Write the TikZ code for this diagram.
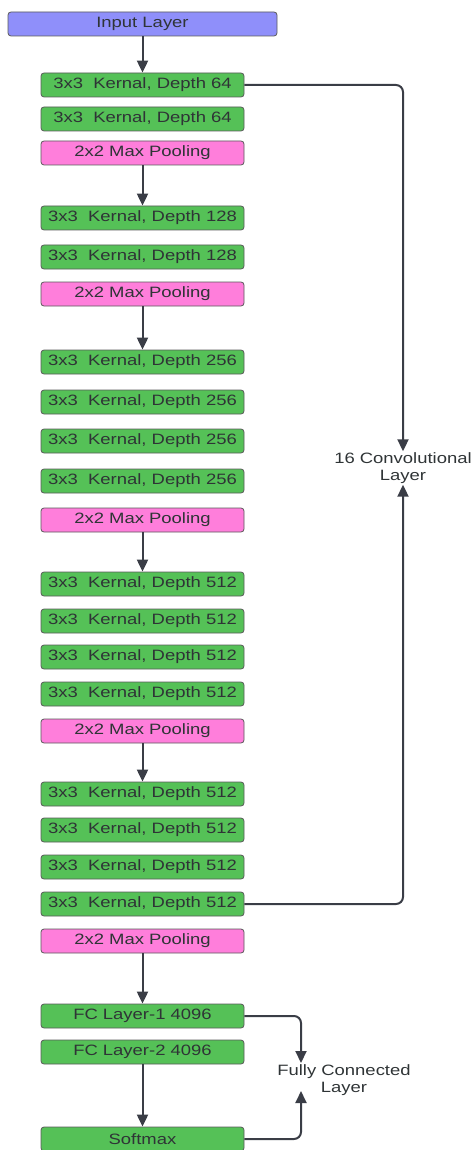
\documentclass[tikz,border=0pt]{standalone}
\usepackage{fontspec}
\setmainfont{Liberation Sans}[FakeStretch=1.23]
\usetikzlibrary{arrows.meta}
\definecolor{inputc}{HTML}{8F8FFA}
\definecolor{greenc}{HTML}{55C157}
\definecolor{pinkc}{HTML}{FF7EDB}
\definecolor{edgec}{HTML}{5A5A5A}
\definecolor{linec}{HTML}{3A3D46}
\definecolor{textc}{HTML}{2F3436}
\begin{document}
\begin{tikzpicture}[x=1pt,y=-1pt,
  layerbox/.style={rectangle, rounded corners=3pt, draw=edgec, line width=0.8pt, minimum width=203pt, minimum height=24pt, inner sep=0pt, text=textc, font=\fontsize{15}{17}\selectfont},
  conv/.style={layerbox, fill=greenc},
  pool/.style={layerbox, fill=pinkc},
  inp/.style={layerbox, fill=inputc, minimum width=269pt},
  lbl/.style={align=center, text=textc, inner sep=1pt, font=\fontsize{15}{17}\selectfont},
  conn/.style={draw=linec, line width=2pt, -{Triangle[width=11pt,length=12pt]}},
  side/.style={conn, rounded corners=7pt}
]
\useasboundingbox (0,0) rectangle (475,1150);
\node[inp]  (in)  at (142.5,24)  {Input Layer};
\node[conv] (b1)  at (142.5,85)  {3x3\ \ Kernal, Depth 64};
\node[conv] (b2)  at (142.5,119) {3x3\ \ Kernal, Depth 64};
\node[pool] (p1)  at (142.5,153) {2x2 Max Pooling};
\node[conv] (b3)  at (142.5,218) {3x3\ \ Kernal, Depth 128};
\node[conv] (b4)  at (142.5,257) {3x3\ \ Kernal, Depth 128};
\node[pool] (p2)  at (142.5,294) {2x2 Max Pooling};
\node[conv] (b5)  at (142.5,362) {3x3\ \ Kernal, Depth 256};
\node[conv] (b6)  at (142.5,402) {3x3\ \ Kernal, Depth 256};
\node[conv] (b7)  at (142.5,441) {3x3\ \ Kernal, Depth 256};
\node[conv] (b8)  at (142.5,481) {3x3\ \ Kernal, Depth 256};
\node[pool] (p3)  at (142.5,520) {2x2 Max Pooling};
\node[conv] (b9)  at (142.5,584) {3x3\ \ Kernal, Depth 512};
\node[conv] (b10) at (142.5,621) {3x3\ \ Kernal, Depth 512};
\node[conv] (b11) at (142.5,657) {3x3\ \ Kernal, Depth 512};
\node[conv] (b12) at (142.5,694) {3x3\ \ Kernal, Depth 512};
\node[pool] (p4)  at (142.5,731) {2x2 Max Pooling};
\node[conv] (b13) at (142.5,794) {3x3\ \ Kernal, Depth 512};
\node[conv] (b14) at (142.5,830) {3x3\ \ Kernal, Depth 512};
\node[conv] (b15) at (142.5,867) {3x3\ \ Kernal, Depth 512};
\node[conv] (b16) at (142.5,904) {3x3\ \ Kernal, Depth 512};
\node[pool] (p5)  at (142.5,941) {2x2 Max Pooling};
\node[conv] (fc1) at (142.5,1016) {FC Layer-1 4096};
\node[conv] (fc2) at (142.5,1052) {FC Layer-2 4096};
\node[conv] (sm)  at (142.5,1139) {Softmax};

\node[lbl] (convl) at (403,468) {16 Convolutional\\Layer};
\node[lbl] (fcl)   at (344,1080) {Fully Connected\\Layer};
\coordinate (fcA) at (301,1063);
\coordinate (fcB) at (301,1091);

\draw[conn] (in) -- (b1);
\draw[conn] (p1) -- (b3);
\draw[conn] (p2) -- (b5);
\draw[conn] (p3) -- (b9);
\draw[conn] (p4) -- (b13);
\draw[conn] (p5) -- (fc1);
\draw[conn] (fc2) -- (sm);

\draw[side] (b1.east) -| (convl.north);
\draw[side] (b16.east) -| (convl.south);
\draw[side] (fc1.east) -| (fcA);
\draw[side] (sm.east) -| (fcB);
\end{tikzpicture}
\end{document}
